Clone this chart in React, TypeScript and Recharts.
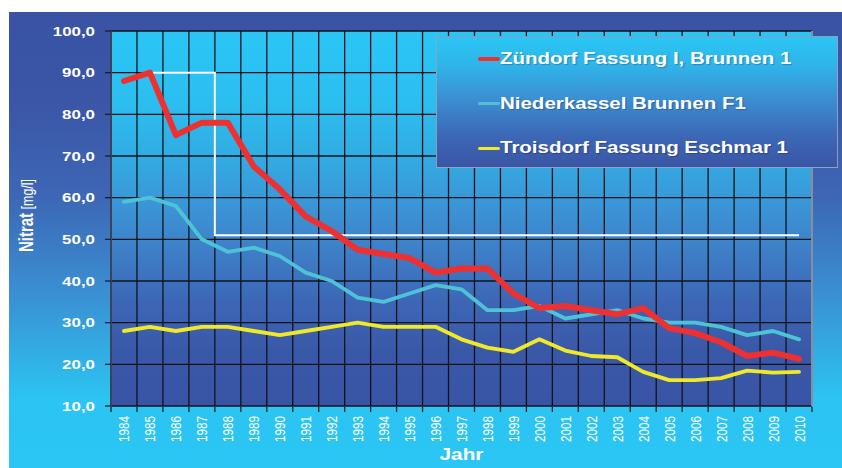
import React from 'react';
import { LineChart, Line, XAxis, YAxis, CartesianGrid, ReferenceLine } from 'recharts';

const years = [1984, 1985, 1986, 1987, 1988, 1989, 1990, 1991, 1992, 1993, 1994, 1995, 1996, 1997, 1998, 1999, 2000, 2001, 2002, 2003, 2004, 2005, 2006, 2007, 2008, 2009, 2010];
const zuendorf = [88, 90, 75, 78, 78, 67.5, 62, 55.5, 52, 47.5, 46.5, 45.5, 42, 43, 43, 37, 33.5, 34, 33, 32, 33.5, 28.7, 27.5, 25.3, 22, 22.8, 21.3];
const niederkassel = [59, 60, 58, 50, 47, 48, 46, 42, 40, 36, 35, 37, 39, 38, 33, 33, 34, 31, 32, 33, 31, 30, 30, 29, 27, 28, 26];
const troisdorf = [28, 29, 28, 29, 29, 28, 27, 28, 29, 30, 29, 29, 29, 26, 24, 23, 26, 23.3, 22, 21.7, 18.2, 16.2, 16.2, 16.7, 18.5, 18, 18.2];
const grenzwert = [null, 90, 90, 90, 51, 51, 51, 51, 51, 51, 51, 51, 51, 51, 51, 51, 51, 51, 51, 51, 51, 51, 51, 51, 51, 51, 51];
const yTicks = [10, 20, 30, 40, 50, 60, 70, 80, 90, 100];
const seriesNames = ['Zündorf Fassung I, Brunnen 1', 'Niederkassel Brunnen F1', 'Troisdorf Fassung Eschmar 1'];
const seriesColors = ['#ee3030', '#4fc3d6', '#f0e82a'];
const swatchHeights = [4, 3, 3];

const data = years.map((year, i) => ({
  year,
  zuendorf: zuendorf[i],
  niederkassel: niederkassel[i],
  troisdorf: troisdorf[i],
  grenzwert: grenzwert[i],
}));

const xMin = years[0] - 0.5;
const xMax = years[years.length - 1] + 0.5;
const boundaries = [...years.map((y) => y - 0.5), xMax];

const FONT = '"Liberation Sans", Arial, sans-serif';
const fmt = (v: number) => v.toFixed(1).replace('.', ',');

const YTick = (props: any) => {
  const { x, y, payload } = props;
  return (
    <text
      transform={`translate(${x},${y}) scale(1.3,1)`}
      textAnchor="end"
      dy="0.36em"
      fill="#ffffff"
      fontFamily={FONT}
      fontWeight="bold"
      fontSize={13}
    >
      {fmt(payload.value)}
    </text>
  );
};

const XTick = (props: any) => {
  const { x, y, payload } = props;
  return (
    <text
      transform={`translate(${x + 5.5},${y}) scale(1.3,1) rotate(-90)`}
      textAnchor="end"
      fill="#ffffff"
      fontFamily={FONT}
      fontSize={11.7}
    >
      {payload.value}
    </text>
  );
};

const EmptyTick = () => <g />;

const XTitle = (props: any) => {
  const vb = props.viewBox || {};
  const cx = vb.x + vb.width / 2;
  return (
    <text
      transform={`translate(${cx},${vb.y + 54}) scale(1.3,1)`}
      textAnchor="middle"
      fill="#ffffff"
      fontFamily={FONT}
      fontWeight="bold"
      fontSize={16}
    >
      Jahr
    </text>
  );
};

const YTitle = (props: any) => {
  const vb = props.viewBox || {};
  const cy = vb.y + vb.height / 2 - 3;
  return (
    <text
      transform={`translate(${vb.x - 18},${cy}) scale(1.3,1) rotate(-90)`}
      textAnchor="middle"
      fill="#ffffff"
      fontFamily={FONT}
    >
      <tspan fontWeight="bold" fontSize={15}>Nitrat</tspan>
      <tspan fontSize={12.5}> [mg/l]</tspan>
    </text>
  );
};

const verticalGen = (args: any) => {
  const { xAxis, offset } = args || {};
  return boundaries.map((b) =>
    xAxis && typeof xAxis.scale === 'function'
      ? xAxis.scale(b)
      : offset.left + ((b - xMin) / (xMax - xMin)) * offset.width
  );
};

export default function App() {
  return (
    <div
      style={{
        position: 'absolute',
        left: 9,
        top: 12,
        width: 833,
        height: 456,
        background:
          'linear-gradient(to bottom, #3a53a4 0%, #3b56a7 20%, #3d66b4 40%, #3a90d3 62%, #2cc4f2 85%, #2bc6f4 100%)',
      }}
    >
      <LineChart width={833} height={456} data={data} margin={{ top: 19, right: 30, bottom: 60, left: 42 }}>
        <defs>
          <linearGradient id="plotBg" x1="0" y1="0" x2="0" y2="1">
            <stop offset="0%" stopColor="#2ac6f6" />
            <stop offset="18%" stopColor="#2bbff0" />
            <stop offset="32%" stopColor="#31aee4" />
            <stop offset="45%" stopColor="#3a98d8" />
            <stop offset="58%" stopColor="#3e80c8" />
            <stop offset="72%" stopColor="#3c67b6" />
            <stop offset="85%" stopColor="#3a58a8" />
            <stop offset="100%" stopColor="#3954a5" />
          </linearGradient>
        </defs>
        <CartesianGrid
          stroke="#101418"
          strokeWidth={1.3}
          fill="url(#plotBg)"
          fillOpacity={1}
          verticalCoordinatesGenerator={verticalGen}
        />
        <XAxis
          xAxisId="b"
          dataKey="year"
          type="number"
          domain={[xMin, xMax]}
          ticks={boundaries}
          interval={0}
          height={1}
          tickSize={5}
          tickLine={{ stroke: '#1a1f2a', strokeWidth: 1.3 }}
          axisLine={false}
          tick={EmptyTick}
        />
        <XAxis
          dataKey="year"
          type="number"
          domain={[xMin, xMax]}
          ticks={years}
          interval={0}
          height={1}
          tickSize={0}
          tickMargin={10}
          tickLine={false}
          axisLine={false}
          tick={XTick}
          label={{ content: XTitle }}
        />
        <YAxis
          type="number"
          domain={[10, 100]}
          ticks={yTicks}
          interval={0}
          width={60}
          tickSize={6}
          tickMargin={10}
          axisLine={{ stroke: '#3c4358', strokeWidth: 2 }}
          tickLine={{ stroke: '#1a1f2a', strokeWidth: 1.3 }}
          tick={YTick}
          label={{ content: YTitle }}
        />
        <ReferenceLine x={xMax} stroke="#8a8d9a" strokeWidth={2} />
        <Line
          dataKey="grenzwert"
          type="step"
          stroke="#ffffff"
          strokeWidth={2}
          dot={false}
          isAnimationActive={false}
        />
        <Line
          dataKey="troisdorf"
          type="linear"
          stroke={seriesColors[2]}
          strokeWidth={3.8}
          strokeLinejoin="round"
          strokeLinecap="round"
          dot={false}
          isAnimationActive={false}
        />
        <Line
          dataKey="niederkassel"
          type="linear"
          stroke={seriesColors[1]}
          strokeWidth={3.8}
          strokeLinejoin="round"
          strokeLinecap="round"
          dot={false}
          isAnimationActive={false}
        />
        <Line
          dataKey="zuendorf"
          type="linear"
          stroke={seriesColors[0]}
          strokeWidth={6}
          strokeLinejoin="round"
          strokeLinecap="round"
          dot={false}
          isAnimationActive={false}
        />
      </LineChart>
      <div
        style={{
          position: 'absolute',
          left: 427,
          top: 24,
          width: 402,
          height: 132,
          boxSizing: 'border-box',
          border: '1px solid rgba(150,162,190,0.9)',
          background:
            'linear-gradient(to bottom, #2bc6f5 0%, #2fb4e9 22%, #3c8bd0 50%, #3c68b6 76%, #3a55a6 100%)',
          fontFamily: FONT,
        }}
      >
        {seriesNames.map((name, i) => (
          <div
            key={name}
            style={{
              position: 'absolute',
              left: 41,
              top: 0 + i * 44.5,
              height: 44,
              display: 'flex',
              alignItems: 'center',
              whiteSpace: 'nowrap',
            }}
          >
            <span
              style={{
                display: 'inline-block',
                width: 22,
                height: swatchHeights[i],
                background: seriesColors[i],
                borderRadius: 2,
              }}
            />
            <span
              style={{
                display: 'inline-block',
                color: '#ffffff',
                fontWeight: 'bold',
                fontSize: 16,
                transform: 'scaleX(1.28)',
                transformOrigin: 'left center',
                textShadow: '1px 1px 1px rgba(0,0,40,0.25)',
              }}
            >
              {name}
            </span>
          </div>
        ))}
      </div>
    </div>
  );
}
